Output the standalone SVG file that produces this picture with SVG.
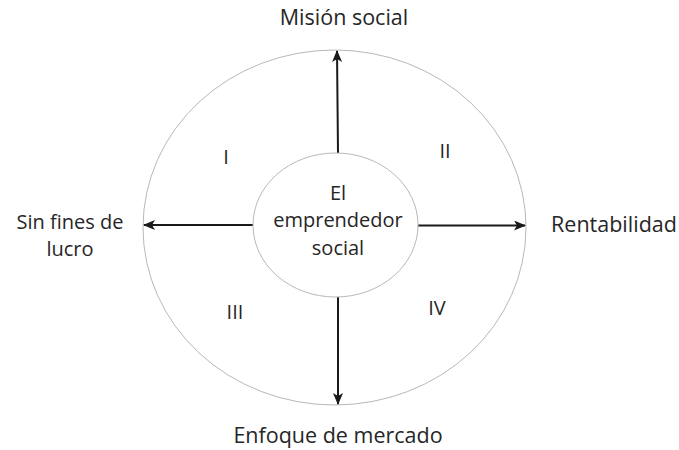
<svg xmlns="http://www.w3.org/2000/svg" width="679" height="450" viewBox="0 0 679 450">
<style>
text{font-family:"Open Sans","Noto Sans",sans-serif;fill:#262626;font-size:21.5px;text-anchor:middle}
.ml{font-size:20px}
.num{font-size:20px}
.ring{fill:none;stroke:#b8b8b8;stroke-width:1}
.ax{stroke:#1a1a1a;stroke-width:2;fill:none;marker-end:url(#ah)}
</style>
<defs>
<marker id="ah" viewBox="0 0 12 10" refX="11" refY="5" markerWidth="12" markerHeight="10" markerUnits="userSpaceOnUse" orient="auto">
<path d="M0,0 L12,5 L0,10 L3,5 Z" fill="#1a1a1a"/>
</marker>
</defs>
<rect width="679" height="450" fill="#fff"/>
<g id="outer"><ellipse class="ring" cx="334.5" cy="227.5" rx="191.5" ry="177.5"/></g>
<g id="connectors">
<line class="ax" x1="338" y1="153" x2="337" y2="51"/>
<line class="ax" x1="253" y1="225" x2="144" y2="225"/>
<line class="ax" x1="418" y1="225.5" x2="525" y2="225.5"/>
<line class="ax" x1="338" y1="297" x2="338" y2="404"/>
</g>
<g id="center"><ellipse class="ring" cx="335.5" cy="225" rx="82.5" ry="72"/>
<text class="ml" x="338" y="199.5">El</text><text class="ml" x="338" y="227">emprendedor</text><text class="ml" x="338" y="254.5">social</text></g>
<g id="top"><text x="344" y="25">Misión social</text></g>
<g id="left"><text class="ml" x="70" y="228.5">Sin fines de</text><text class="ml" x="70" y="256">lucro</text></g>
<g id="right"><text x="614" y="232">Rentabilidad</text></g>
<g id="bottom"><text x="338" y="443">Enfoque de mercado</text></g>
<g id="q1"><text class="num" x="226" y="164">I</text></g>
<g id="q2"><text class="num" x="445" y="158">II</text></g>
<g id="q3"><text class="num" x="235" y="319">III</text></g>
<g id="q4"><text class="num" x="437" y="315">IV</text></g>
</svg>
